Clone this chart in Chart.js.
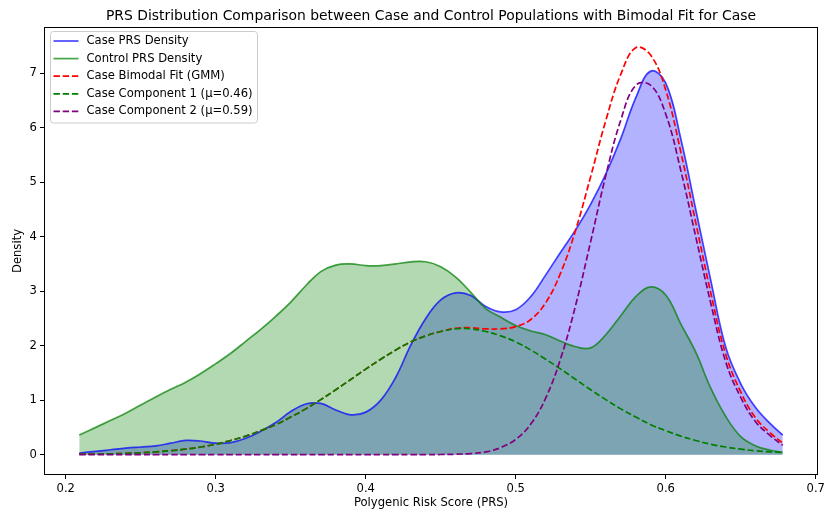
<!DOCTYPE html>
<html>
<head>
<meta charset="utf-8">
<script src="https://cdn.jsdelivr.net/npm/chart.js@4.4.1/dist/chart.umd.min.js"></script>
<style>
  html, body { margin: 0; padding: 0; background: #fff; }
  #wrap { width: 828px; height: 514px; }
</style>
</head>
<body>
<div id="wrap"><canvas id="prsChart" width="828" height="514"></canvas></div>
<script>
// PRS grid (x) and densities
const prsValues = [0.209, 0.22, 0.23, 0.24, 0.25, 0.26, 0.27, 0.28, 0.29, 0.30,
    0.31, 0.32, 0.33, 0.34, 0.35, 0.36, 0.37, 0.38, 0.39, 0.40,
    0.41, 0.42, 0.43, 0.44, 0.45, 0.46, 0.47, 0.48, 0.49, 0.50,
    0.51, 0.52, 0.53, 0.54, 0.55, 0.56, 0.57, 0.58, 0.59, 0.60,
    0.61, 0.62, 0.63, 0.64, 0.65, 0.66, 0.67, 0.678];

const caseDensity = [0.03, 0.06, 0.09, 0.12, 0.14, 0.16, 0.21, 0.26, 0.25, 0.21,
    0.22, 0.30, 0.43, 0.59, 0.79, 0.93, 0.94, 0.82, 0.73, 0.78,
    1.00, 1.42, 2.01, 2.50, 2.84, 2.97, 2.92, 2.72, 2.62, 2.66,
    2.90, 3.30, 3.72, 4.13, 4.60, 5.15, 5.80, 6.55, 7.04, 6.82,
    5.80, 4.50, 3.20, 1.97, 1.30, 0.86, 0.56, 0.36];

const controlDensity = [0.36, 0.50, 0.63, 0.76, 0.91, 1.06, 1.20, 1.33, 1.49, 1.67,
    1.86, 2.08, 2.30, 2.54, 2.80, 3.10, 3.36, 3.48, 3.50, 3.47,
    3.47, 3.50, 3.54, 3.54, 3.45, 3.26, 2.98, 2.68, 2.52, 2.37,
    2.27, 2.20, 2.08, 1.98, 1.96, 2.20, 2.55, 2.90, 3.08, 2.93,
    2.40, 1.88, 1.22, 0.70, 0.33, 0.16, 0.08, 0.04];

const gmmFit = [0.01, 0.01, 0.015, 0.023, 0.034, 0.05, 0.072, 0.10, 0.14, 0.19,
    0.26, 0.34, 0.44, 0.55, 0.69, 0.84, 1.01, 1.19, 1.38, 1.57,
    1.75, 1.92, 2.07, 2.18, 2.26, 2.32, 2.33, 2.31, 2.31, 2.35,
    2.48, 2.79, 3.34, 4.13, 5.11, 6.13, 6.98, 7.47, 7.33, 6.69,
    5.56, 4.26, 2.97, 1.84, 1.15, 0.67, 0.39, 0.21];

const component1 = [0.01, 0.01, 0.015, 0.023, 0.034, 0.05, 0.072, 0.10, 0.14, 0.19,
    0.26, 0.34, 0.44, 0.55, 0.69, 0.84, 1.01, 1.19, 1.38, 1.57,
    1.75, 1.92, 2.07, 2.18, 2.26, 2.31, 2.31, 2.26, 2.18, 2.07,
    1.92, 1.75, 1.57, 1.38, 1.19, 1.01, 0.84, 0.69, 0.55, 0.44,
    0.34, 0.26, 0.19, 0.14, 0.10, 0.07, 0.05, 0.04];

const component2 = [0, 0, 0, 0, 0, 0, 0, 0, 0, 0,
    0, 0, 0, 0, 0, 0, 0, 0, 0, 0,
    0, 0, 0, 0, 0.002, 0.007, 0.02, 0.05, 0.13, 0.28,
    0.56, 1.04, 1.77, 2.75, 3.92, 5.12, 6.14, 6.78, 6.78, 6.25,
    5.22, 4.00, 2.78, 1.70, 1.05, 0.60, 0.34, 0.17];

const xTicks = [0.2, 0.3, 0.4, 0.5, 0.6, 0.7];
const yTicks = [0, 1, 2, 3, 4, 5, 6, 7];

const FONT = "'DejaVu Sans', sans-serif";

const toPoints = (ys) => prsValues.map((x, i) => ({ x: x, y: ys[i] }));

const legendItems = [
    { label: 'Case PRS Density', color: 'rgba(0,0,255,0.72)', dash: [] },
    { label: 'Control PRS Density', color: 'rgba(0,128,0,0.72)', dash: [] },
    { label: 'Case Bimodal Fit (GMM)', color: '#ff0000', dash: [6.4, 2.8] },
    { label: 'Case Component 1 (μ=0.46)', color: '#008000', dash: [6.4, 2.8] },
    { label: 'Case Component 2 (μ=0.59)', color: '#800080', dash: [6.4, 2.8] }
];

// titles, frame and legend drawn like matplotlib
const decorPlugin = {
    id: 'decor',
    afterDraw(chart) {
        const ctx = chart.ctx;
        const a = chart.chartArea;
        ctx.save();
        // frame
        ctx.strokeStyle = '#000';
        ctx.lineWidth = 1;
        ctx.setLineDash([]);
        ctx.strokeRect(Math.round(a.left) + 0.5, Math.round(a.top) + 0.5,
            Math.round(a.right - a.left) - 1, Math.round(a.bottom - a.top) - 1);

        // title
        ctx.fillStyle = '#000';
        ctx.font = `13.9px ${FONT}`;
        ctx.textAlign = 'center';
        ctx.textBaseline = 'alphabetic';
        ctx.fillText('PRS Distribution Comparison between Case and Control Populations with Bimodal Fit for Case',
            (a.left + a.right) / 2, 19.5);

        // axis labels
        ctx.font = `11.6px ${FONT}`;
        ctx.textBaseline = 'middle';
        ctx.fillText('Polygenic Risk Score (PRS)', (a.left + a.right) / 2, 503);
        ctx.translate(18, (a.top + a.bottom) / 2);
        ctx.rotate(-Math.PI / 2);
        ctx.fillText('Density', 0, 0);
        ctx.restore();

        // legend
        ctx.save();
        ctx.beginPath();
        ctx.roundRect(50.5, 31.5, 207, 91.5, 3);
        ctx.fillStyle = 'rgba(255,255,255,0.8)';
        ctx.fill();
        ctx.strokeStyle = '#cccccc';
        ctx.lineWidth = 1;
        ctx.stroke();
        ctx.font = `11.6px ${FONT}`;
        ctx.textAlign = 'left';
        ctx.textBaseline = 'middle';
        legendItems.forEach((item, i) => {
            const y = 41 + i * 17.6;
            ctx.beginPath();
            ctx.setLineDash(item.dash);
            ctx.strokeStyle = item.color;
            ctx.lineWidth = 1.7;
            ctx.moveTo(53.5, y);
            ctx.lineTo(78.5, y);
            ctx.stroke();
            ctx.fillStyle = '#000';
            ctx.fillText(item.label, 86.5, y);
        });
        ctx.restore();
    }
};

const ctx = document.getElementById('prsChart').getContext('2d');
const prsChart = new Chart(ctx, {
    type: 'line',
    data: {
        datasets: [
            {
                label: 'Case Component 2 (μ=0.59)',
                data: toPoints(component2),
                borderColor: '#800080',
                borderDash: [6.4, 2.8],
                borderWidth: 1.7,
                fill: false
            },
            {
                label: 'Case Component 1 (μ=0.46)',
                data: toPoints(component1),
                borderColor: '#008000',
                borderDash: [6.4, 2.8],
                borderWidth: 1.7,
                fill: false
            },
            {
                label: 'Case Bimodal Fit (GMM)',
                data: toPoints(gmmFit),
                borderColor: '#ff0000',
                borderDash: [6.4, 2.8],
                borderWidth: 1.7,
                fill: false
            },
            {
                label: 'Control PRS Density',
                data: toPoints(controlDensity),
                borderColor: 'rgba(0,128,0,0.72)',
                backgroundColor: 'rgba(0,128,0,0.3)',
                borderWidth: 1.7,
                fill: 'origin'
            },
            {
                label: 'Case PRS Density',
                data: toPoints(caseDensity),
                borderColor: 'rgba(0,0,255,0.72)',
                backgroundColor: 'rgba(0,0,255,0.3)',
                borderWidth: 1.7,
                fill: 'origin'
            }
        ]
    },
    options: {
        responsive: false,
        animation: false,
        devicePixelRatio: 1,
        elements: {
            point: { radius: 0 },
            line: { tension: 0.4 }
        },
        layout: { padding: { left: 0, right: 8, top: 27, bottom: 0 } },
        plugins: {
            legend: { display: false },
            title: { display: false },
            tooltip: { enabled: false },
            filler: { drawTime: 'beforeDatasetsDraw' }
        },
        scales: {
            x: {
                type: 'linear',
                min: 0.1855,
                max: 0.7015,
                afterFit: (scale) => { scale.height = 39; },
                afterBuildTicks: (scale) => { scale.ticks = xTicks.map(v => ({ value: v })); },
                ticks: {
                    color: '#000',
                    padding: 3,
                    maxRotation: 0,
                    font: { family: FONT, size: 11.6 },
                    callback: (v) => v.toFixed(1)
                },
                grid: {
                    drawOnChartArea: false,
                    drawTicks: true,
                    tickLength: 4,
                    tickColor: '#000',
                    tickWidth: 1
                },
                border: { display: false }
            },
            y: {
                type: 'linear',
                min: -0.374,
                max: 7.85,
                afterFit: (scale) => { scale.width = 44; },
                afterBuildTicks: (scale) => { scale.ticks = yTicks.map(v => ({ value: v })); },
                ticks: {
                    color: '#000',
                    padding: 3,
                    font: { family: FONT, size: 11.6 },
                    callback: (v) => String(v)
                },
                grid: {
                    drawOnChartArea: false,
                    drawTicks: true,
                    tickLength: 4,
                    tickColor: '#000',
                    tickWidth: 1
                },
                border: { display: false }
            }
        }
    },
    plugins: [decorPlugin]
});
</script>
</body>
</html>
